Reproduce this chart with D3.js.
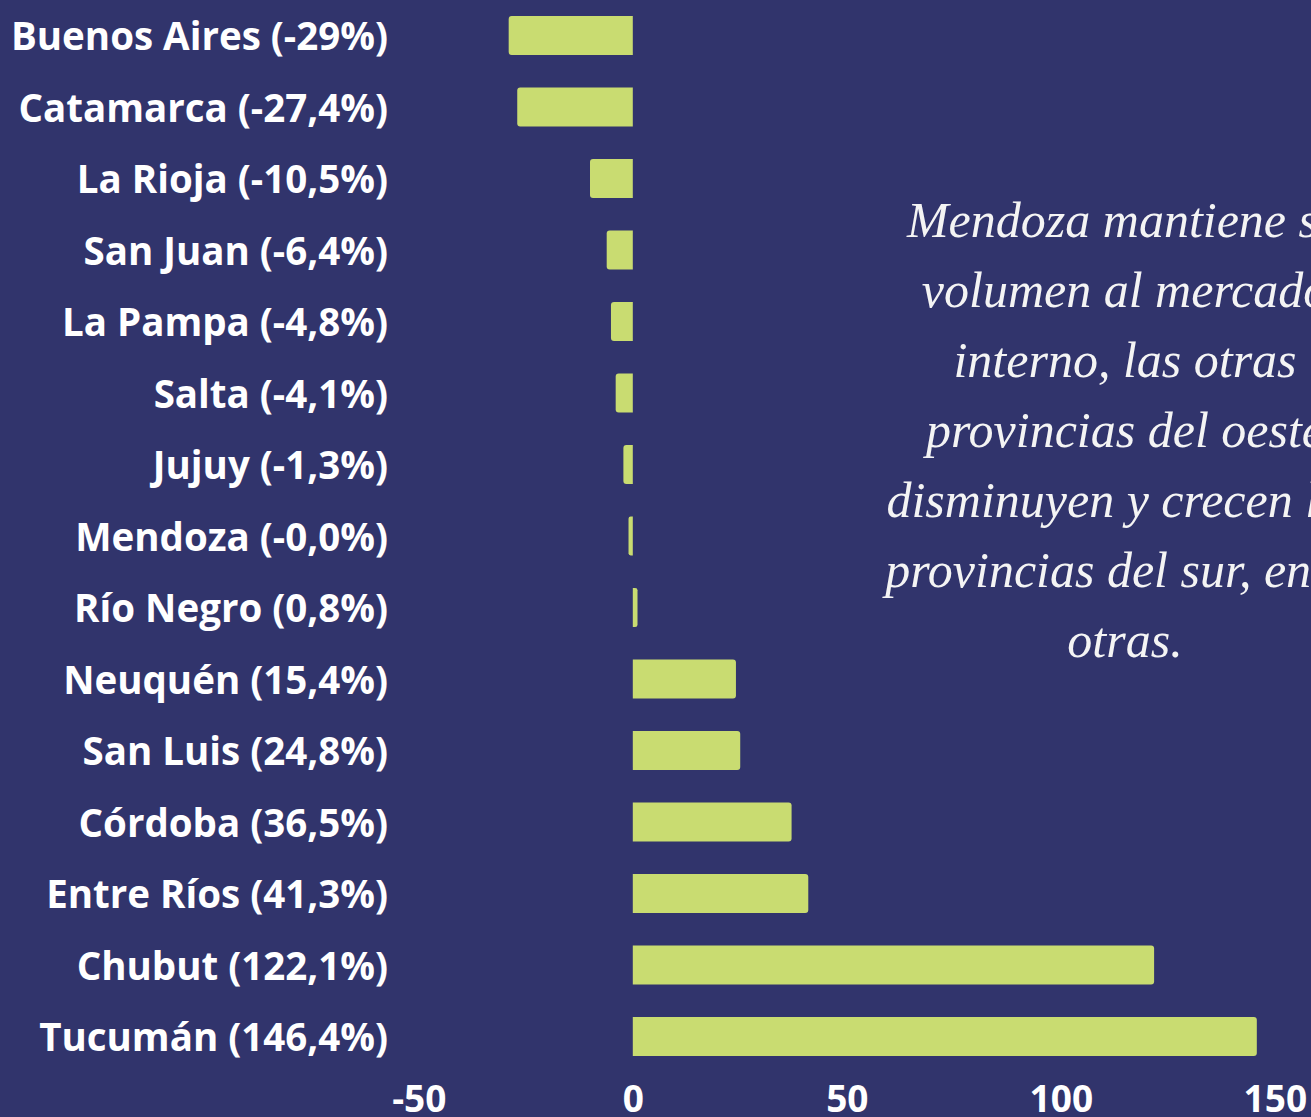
<!DOCTYPE html>
<html>
<head>
<meta charset="utf-8">
<script src="https://cdn.jsdelivr.net/npm/d3@7"></script>
<style>
  html, body { margin: 0; padding: 0; background: #31346c; overflow: hidden; }
  svg { display: block; }
</style>
</head>
<body>
<svg id="chart" width="1311" height="1117"></svg>
<script>
// Data
const provinces = ["Buenos Aires", "Catamarca", "La Rioja", "San Juan", "La Pampa", "Salta", "Jujuy", "Mendoza", "Río Negro", "Neuquén", "San Luis", "Córdoba", "Entre Ríos", "Chubut", "Tucumán"];
const pctLabels = ["-29%", "-27,4%", "-10,5%", "-6,4%", "-4,8%", "-4,1%", "-1,3%", "-0,0%", "0,8%", "15,4%", "24,8%", "36,5%", "41,3%", "122,1%", "146,4%"];
const barValues = [-29.0, -27.0, -10.0, -6.1, -5.1, -4.0, -2.2, -1.0, 1.1, 24.1, 25.1, 37.1, 41.0, 121.8, 145.8];
const xTicks = [-50, 0, 50, 100, 150];
const noteLines = ["Mendoza mantiene su", "volumen al mercado", "interno, las otras", "provincias del oeste", "disminuyen y crecen las", "provincias del sur, entre", "otras."];

const svg = d3.select("#chart");
const bg = "#31346c", barColor = "#c9dc71";

svg.append("rect").attr("width", 1311).attr("height", 1117).attr("fill", bg);

const x = d3.scaleLinear().domain([-50, 150]).range([418.8, 1274.8]);
const y = d3.scaleBand().domain(provinces).range([-16.5, 1088.5]).paddingInner(0.455).paddingOuter(0.455);

const r = 3;
function barPath(v, top, h) {
  const x0 = x(0), x1 = x(v);
  const s = v >= 0 ? 1 : -1;
  const rr = Math.min(r, Math.abs(x1 - x0) / 2);
  const p = d3.path();
  p.moveTo(x0, top);
  p.lineTo(x1 - s * rr, top);
  p.quadraticCurveTo(x1, top, x1, top + rr);
  p.lineTo(x1, top + h - rr);
  p.quadraticCurveTo(x1, top + h, x1 - s * rr, top + h);
  p.lineTo(x0, top + h);
  p.closePath();
  return p.toString();
}

svg.append("g").selectAll("path")
  .data(provinces)
  .join("path")
  .attr("d", (d, i) => barPath(barValues[i], y(d), y.bandwidth()))
  .attr("fill", barColor);

// Category labels via left axis
const labelAxis = d3.axisLeft(y).tickSize(0).tickPadding(0)
  .tickFormat((d, i) => `${d} (${pctLabels[i]})`);
const gy = svg.append("g").attr("transform", "translate(388,0)").call(labelAxis);
gy.select(".domain").remove();
gy.selectAll("text")
  .attr("fill", "#ffffff")
  .attr("font-family", "'Open Sans', sans-serif")
  .attr("font-weight", 700)
  .attr("font-size", 38.5)
  .attr("dy", "0.38em");

// X axis tick labels
const xAxis = d3.axisBottom(x).tickValues(xTicks).tickSize(0).tickPadding(0).tickFormat(d3.format("d"));
const gx = svg.append("g").attr("transform", "translate(0,1112)").call(xAxis);
gx.select(".domain").remove();
gx.selectAll("text")
  .attr("fill", "#ffffff")
  .attr("font-family", "'Open Sans', sans-serif")
  .attr("font-weight", 700)
  .attr("font-size", 37)
  .attr("dy", "0")
  .text(d => d < 0 ? "-" + Math.abs(d) : d);

// Annotation
const note = svg.append("text")
  .attr("x", 1125)
  .attr("y", 237)
  .attr("text-anchor", "middle")
  .attr("fill", "#f4f4f4")
  .attr("font-family", "'Liberation Serif', 'DejaVu Serif', serif")
  .attr("font-style", "italic")
  .attr("font-size", 50);
note.selectAll("tspan")
  .data(noteLines)
  .join("tspan")
  .attr("x", 1125)
  .attr("dy", (d, i) => i === 0 ? 0 : 70)
  .text(d => d);
</script>
</body>
</html>
